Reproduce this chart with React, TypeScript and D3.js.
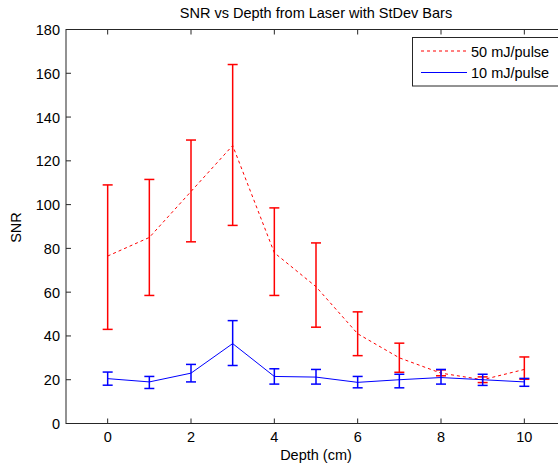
import React from "react";
import * as d3 from "d3";

const depths = [0, 1, 2, 3, 4, 5, 6, 7, 8, 9, 10];
const snr50 = [76.5, 85, 106, 127, 78, 62.5, 41, 30, 23, 20, 24.7];
const snr50Low = [43, 58.5, 83, 90.5, 58.5, 44, 31, 23.4, 21.8, 18.7, 20.2];
const snr50High = [109, 111.5, 129.5, 164, 98.5, 82.5, 51, 36.7, 24.5, 21.3, 30.4];
const snr10 = [20.5, 19, 23, 36.5, 21.5, 21.2, 18.8, 20, 21, 20, 19];
const snr10Low = [17.5, 16, 19, 26.5, 18, 18, 16.3, 16.3, 18, 17.4, 17];
const snr10High = [23.5, 21.5, 27, 47, 25, 24.7, 21.5, 22.5, 24.7, 22.5, 20.6];
const xTicks = [0, 2, 4, 6, 8, 10];
const yTicks = [0, 20, 40, 60, 80, 100, 120, 140, 160, 180];
const seriesNames = ["50 mJ/pulse", "10 mJ/pulse"];

const W = 558;
const H = 465;
const left = 66;
const right = 566;
const top = 29.5;
const bottom = 423.5;
const FONT = "'Liberation Sans', Arial, sans-serif";
const FS = 14.5;

export default function App() {
  const x = d3.scaleLinear().domain([-1, 11]).range([left, right]);
  const y = d3.scaleLinear().domain([0, 180]).range([bottom, top]);
  const line = d3
    .line<number>()
    .x((_, i) => x(depths[i]))
    .y((d) => y(d));
  const cap = 5;

  const errorBars = (lo: number[], hi: number[], color: string, key: string) =>
    depths.map((d, i) => {
      const cx = x(d);
      return (
        <g key={key + i} stroke={color} strokeWidth={1.5}>
          <line x1={cx} x2={cx} y1={y(lo[i])} y2={y(hi[i])} />
          <line x1={cx - cap} x2={cx + cap} y1={y(lo[i])} y2={y(lo[i])} />
          <line x1={cx - cap} x2={cx + cap} y1={y(hi[i])} y2={y(hi[i])} />
        </g>
      );
    });

  return (
    <svg
      width={W}
      height={H}
      style={{ position: "absolute", left: 0, top: 0, background: "#fff" }}
      fontFamily={FONT}
    >
      <rect x={0} y={0} width={W} height={H} fill="#fff" />
      {/* ticks */}
      {xTicks.map((t) => (
        <g key={"xt" + t} stroke="#262626" strokeWidth={1}>
          <line x1={x(t)} x2={x(t)} y1={bottom} y2={bottom - 5} />
          <line x1={x(t)} x2={x(t)} y1={top} y2={top + 5} />
        </g>
      ))}
      {yTicks.map((t) => (
        <g key={"yt" + t} stroke="#262626" strokeWidth={1}>
          <line x1={left} x2={left + 5} y1={y(t)} y2={y(t)} />
        </g>
      ))}
      {/* data */}
      <path d={line(snr50) || ""} fill="none" stroke="#ff0000" strokeWidth={1} strokeDasharray="3,3" />
      {errorBars(snr50Low, snr50High, "#ff0000", "r")}
      <path d={line(snr10) || ""} fill="none" stroke="#0000ff" strokeWidth={1} />
      {errorBars(snr10Low, snr10High, "#0000ff", "b")}
      {/* axes box */}
      <rect x={left} y={top} width={right - left} height={bottom - top} fill="none" stroke="#262626" strokeWidth={1} />
      {/* tick labels */}
      {xTicks.map((t) => (
        <text key={"xl" + t} x={x(t)} y={bottom + 18.5} fontSize={FS} textAnchor="middle" fill="#000">
          {t}
        </text>
      ))}
      {yTicks.map((t) => (
        <text key={"yl" + t} x={left - 6} y={y(t) + 5.5} fontSize={FS} textAnchor="end" fill="#000">
          {t}
        </text>
      ))}
      {/* labels */}
      <text x={(left + right) / 2} y={17.5} fontSize={FS} textAnchor="middle" fill="#000">
        SNR vs Depth from Laser with StDev Bars
      </text>
      <text x={(left + right) / 2} y={459.5} fontSize={FS} textAnchor="middle" fill="#000">
        Depth (cm)
      </text>
      <text
        transform={`translate(21, 227.5) rotate(-90)`}
        fontSize={FS}
        textAnchor="middle"
        fill="#000"
      >
        SNR
      </text>
      {/* legend */}
      <rect x={412.5} y={37.5} width={160} height={48.5} fill="#fff" stroke="#262626" strokeWidth={1} />
      <line x1={421} x2={467} y1={51} y2={51} stroke="#ff0000" strokeWidth={1} strokeDasharray="3,3" />
      <line x1={421} x2={467} y1={72.5} y2={72.5} stroke="#0000ff" strokeWidth={1} />
      <text x={471} y={56.5} fontSize={FS} fill="#000">{seriesNames[0]}</text>
      <text x={471} y={78} fontSize={FS} fill="#000">{seriesNames[1]}</text>
    </svg>
  );
}
